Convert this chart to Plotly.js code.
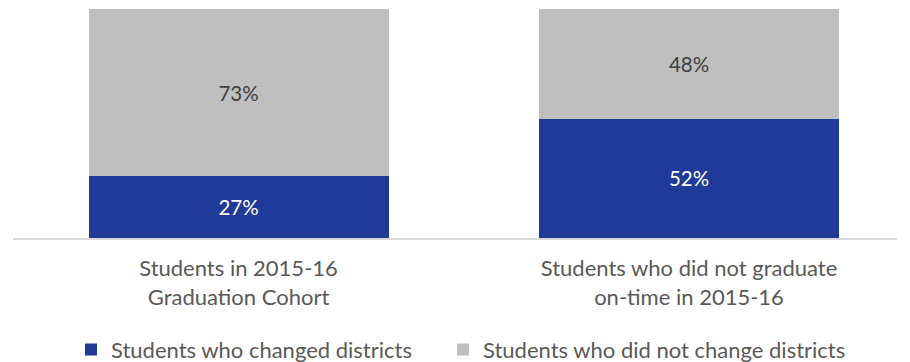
<!DOCTYPE html>
<html>
<head>
<meta charset="utf-8">
<script src="https://cdn.plot.ly/plotly-3.0.1.min.js"></script>
<style>html,body{margin:0;padding:0;background:#fff;}#chart{width:910px;height:362px;}</style>
</head>
<body>
<div id="chart"></div>
<script>
const categories = ["Students in 2015-16<br>Graduation Cohort", "Students who did not graduate<br>on-time in 2015-16"];
const changedDistricts = [27, 52];
const didNotChange = [73, 48];
const seriesNames = ["Students who changed districts", "Students who did not change districts"];

const FONT = "Lato, 'Open Sans', sans-serif";
const traces = [
  {
    type: "bar", name: seriesNames[0], x: categories, y: changedDistricts,
    marker: {color: "#1F3A99"}, legend: "legend",
    text: changedDistricts.map(v => v + "%"), textposition: "inside", insidetextanchor: "middle",
    textfont: {color: "#FFFFFF", size: 20.5, family: FONT}, hoverinfo: "none"
  },
  {
    type: "bar", name: seriesNames[1], x: categories, y: didNotChange,
    marker: {color: "#BFBFBF"}, legend: "legend2",
    text: didNotChange.map(v => v + "%"), textposition: "inside", insidetextanchor: "middle",
    textfont: {color: "#404040", size: 20.5, family: FONT}, hoverinfo: "none"
  }
];

const legendBase = {orientation: "h", xanchor: "left", xref: "container",
  y: 0.092, yanchor: "top", yref: "container", bgcolor: "rgba(0,0,0,0)",
  font: {size: 22, color: "#595959"}};

const layout = {
  width: 910, height: 362,
  margin: {l: 13, r: 13, t: 9, b: 124, autoexpand: false},
  barmode: "stack", bargap: 0.334,
  paper_bgcolor: "#FFFFFF", plot_bgcolor: "#FFFFFF",
  font: {family: FONT, size: 22, color: "#595959"},
  xaxis: {
    type: "category", range: [-0.5006, 1.4617],
    showline: true, linecolor: "#D9D9D9", linewidth: 1.5,
    ticks: "", showgrid: false, zeroline: false,
    tickfont: {size: 22, color: "#595959"}, ticklabelstandoff: 10
  },
  yaxis: {range: [0, 100], visible: false, showgrid: false, zeroline: false},
  showlegend: true,
  legend: Object.assign({}, legendBase, {x: 71 / 910}),
  legend2: Object.assign({}, legendBase, {x: 443 / 910}),
  uniformtext: {mode: false}
};

Plotly.newPlot("chart", traces, layout, {displayModeBar: false, staticPlot: true});
</script>
</body>
</html>
